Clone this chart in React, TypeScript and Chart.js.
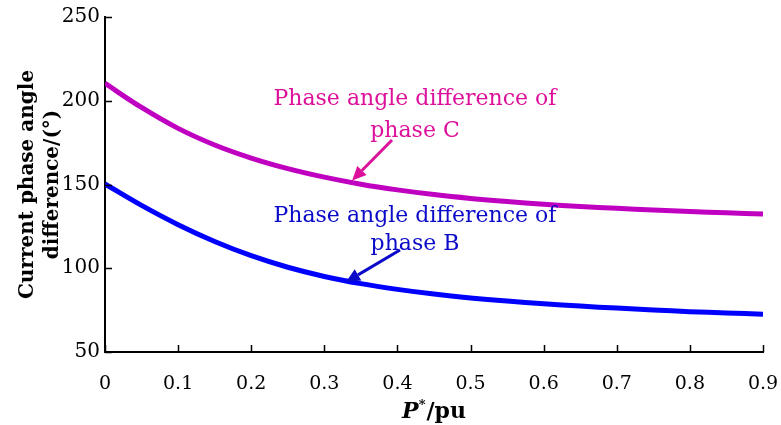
import React, { useEffect, useRef } from "react";
import { Chart, registerables } from "chart.js";

Chart.register(...registerables);

// ---- data ----
const pValues = [0, 0.05, 0.1, 0.15, 0.2, 0.25, 0.3, 0.35, 0.4, 0.45, 0.5, 0.55, 0.6, 0.65, 0.7, 0.75, 0.8, 0.85, 0.9];
const phaseC = [210.4, 196, 183.5, 173.6, 165.8, 159.5, 154.4, 150.2, 146.8, 144, 141.7, 139.8, 138.2, 136.9, 135.8, 134.8, 133.9, 133.1, 132.4];
const phaseB = [150.3, 137.5, 126, 116, 107.5, 100.6, 95.1, 90.8, 87.4, 84.6, 82.3, 80.4, 78.8, 77.4, 76.2, 75.1, 74.1, 73.3, 72.6];
const xTicks = [0, 0.1, 0.2, 0.3, 0.4, 0.5, 0.6, 0.7, 0.8, 0.9];
const yTicks = [50, 100, 150, 200, 250];

const yTitleLines = ["Current phase angle", "difference/(°)"];
const labelC = ["Phase angle difference of", "phase C"];
const labelB = ["Phase angle difference of", "phase B"];

// annotation anchors (data coordinates)
const annC = { textX: 0.424, line1Y: 197.5, line2Y: 178.4, tailX: 0.3926, tailY: 176.6, tipX: 0.338, tipY: 152.4 };
const annB = { textX: 0.424, line1Y: 127.6, line2Y: 110.9, tailX: 0.4035, tailY: 110.9, tipX: 0.3296, tipY: 91.8 };

const SERIF = '"DejaVu Serif", "Liberation Serif", serif';
const colC = "#c000c0";
const colB = "#0000ff";
const txtC = "#dc109a";
const txtB = "#0a0ac8";

const decorPlugin = {
  id: "decor",
  afterDraw(chart: any) {
    const ctx = chart.ctx;
    const xs = chart.scales.x;
    const ys = chart.scales.y;
    const area = chart.chartArea;
    ctx.save();
    // inward ticks
    ctx.strokeStyle = "#000";
    ctx.lineWidth = 1.5;
    ctx.beginPath();
    xTicks.forEach((v) => {
      const px = Math.round(xs.getPixelForValue(v)) + 0.5;
      ctx.moveTo(px, area.bottom);
      ctx.lineTo(px, area.bottom - 7);
    });
    yTicks.forEach((v) => {
      const py = Math.round(ys.getPixelForValue(v)) + 0.5;
      ctx.moveTo(area.left, py);
      ctx.lineTo(area.left + 7, py);
    });
    ctx.stroke();

    // annotations
    const drawAnn = (a: any, lines: string[], tcol: string) => {
      ctx.fillStyle = tcol;
      ctx.font = `22px ${SERIF}`;
      ctx.textAlign = "center";
      ctx.textBaseline = "alphabetic";
      const tx = xs.getPixelForValue(a.textX);
      ctx.fillText(lines[0], tx, ys.getPixelForValue(a.line1Y));
      ctx.fillText(lines[1], tx, ys.getPixelForValue(a.line2Y));
      const x1 = xs.getPixelForValue(a.tailX);
      const y1 = ys.getPixelForValue(a.tailY);
      const x2 = xs.getPixelForValue(a.tipX);
      const y2 = ys.getPixelForValue(a.tipY);
      const ang = Math.atan2(y2 - y1, x2 - x1);
      const hl = 14;
      const hw = 6.5;
      const bx = x2 - hl * Math.cos(ang);
      const by = y2 - hl * Math.sin(ang);
      ctx.strokeStyle = tcol;
      ctx.lineWidth = 3;
      ctx.beginPath();
      ctx.moveTo(x1, y1);
      ctx.lineTo(bx, by);
      ctx.stroke();
      ctx.beginPath();
      ctx.moveTo(x2, y2);
      ctx.lineTo(bx + hw * Math.sin(ang), by - hw * Math.cos(ang));
      ctx.lineTo(bx - hw * Math.sin(ang), by + hw * Math.cos(ang));
      ctx.closePath();
      ctx.fill();
    };
    drawAnn(annC, labelC, txtC);
    drawAnn(annB, labelB, txtB);

    // x title: P*/pu with italic P and superscript *
    ctx.fillStyle = "#000";
    ctx.textAlign = "left";
    ctx.textBaseline = "alphabetic";
    const fP = `italic bold 22px ${SERIF}`;
    const fS = `bold 13px ${SERIF}`;
    const fR = `bold 22px ${SERIF}`;
    ctx.font = fP;
    const wP = ctx.measureText("P").width;
    ctx.font = fS;
    const wS = ctx.measureText("*").width;
    ctx.font = fR;
    const wR = ctx.measureText("/pu").width;
    const total = wP + wS + wR + 1;
    const cx = (area.left + area.right) / 2;
    let x = cx - total / 2;
    const base = 418;
    ctx.font = fP;
    ctx.fillText("P", x, base);
    x += wP;
    ctx.font = fS;
    ctx.fillText("*", x, base - 9);
    x += wS + 1;
    ctx.font = fR;
    ctx.fillText("/pu", x, base);
    ctx.restore();
  },
};

export default function App() {
  const ref = useRef<HTMLCanvasElement | null>(null);
  useEffect(() => {
    document.body.style.margin = "0";
    const chart = new Chart(ref.current as HTMLCanvasElement, {
      type: "line",
      data: {
        datasets: [
          {
            label: "phase C",
            data: pValues.map((p, i) => ({ x: p, y: phaseC[i] })),
            borderColor: colC,
            borderWidth: 5,
            pointRadius: 0,
            tension: 0.4,
          },
          {
            label: "phase B",
            data: pValues.map((p, i) => ({ x: p, y: phaseB[i] })),
            borderColor: colB,
            borderWidth: 5,
            pointRadius: 0,
            tension: 0.4,
          },
        ],
      },
      options: {
        animation: false,
        responsive: true,
        maintainAspectRatio: false,
        layout: { padding: { top: 5, right: 18, left: 0, bottom: 0 } },
        plugins: { legend: { display: false }, tooltip: { enabled: false } },
        scales: {
          x: {
            type: "linear",
            min: 0,
            max: 0.9,
            afterBuildTicks: (s: any) => {
              s.ticks = xTicks.map((v) => ({ value: v }));
            },
            afterFit: (s: any) => {
              s.height = 73;
              s.paddingLeft = 0;
              s.paddingRight = 0;
            },
            grid: { display: false, drawTicks: false },
            border: { display: true, color: "#000", width: 2 },
            ticks: {
              color: "#000",
              font: { family: SERIF, size: 19 },
              padding: 21,
              maxRotation: 0,
              callback: (v: any) => String(v),
            },
          },
          y: {
            type: "linear",
            min: 50,
            max: 250,
            afterBuildTicks: (s: any) => {
              s.ticks = yTicks.map((v) => ({ value: v }));
            },
            afterFit: (s: any) => {
              s.width = 105;
            },
            grid: { display: false, drawTicks: false },
            border: { display: true, color: "#000", width: 2 },
            ticks: {
              color: "#000",
              font: { family: SERIF, size: 20 },
              padding: 5,
            },
            title: {
              display: true,
              text: yTitleLines,
              color: "#000",
              font: { family: SERIF, size: 20, weight: "bold", lineHeight: 1.25 },
              padding: { top: 15, bottom: 0 },
            },
          },
        },
      },
      plugins: [decorPlugin],
    } as any);
    return () => chart.destroy();
  }, []);
  return (
    <div style={{ position: "absolute", left: 0, top: 0, width: 781, height: 425, background: "#fff" }}>
      <canvas ref={ref} />
    </div>
  );
}
